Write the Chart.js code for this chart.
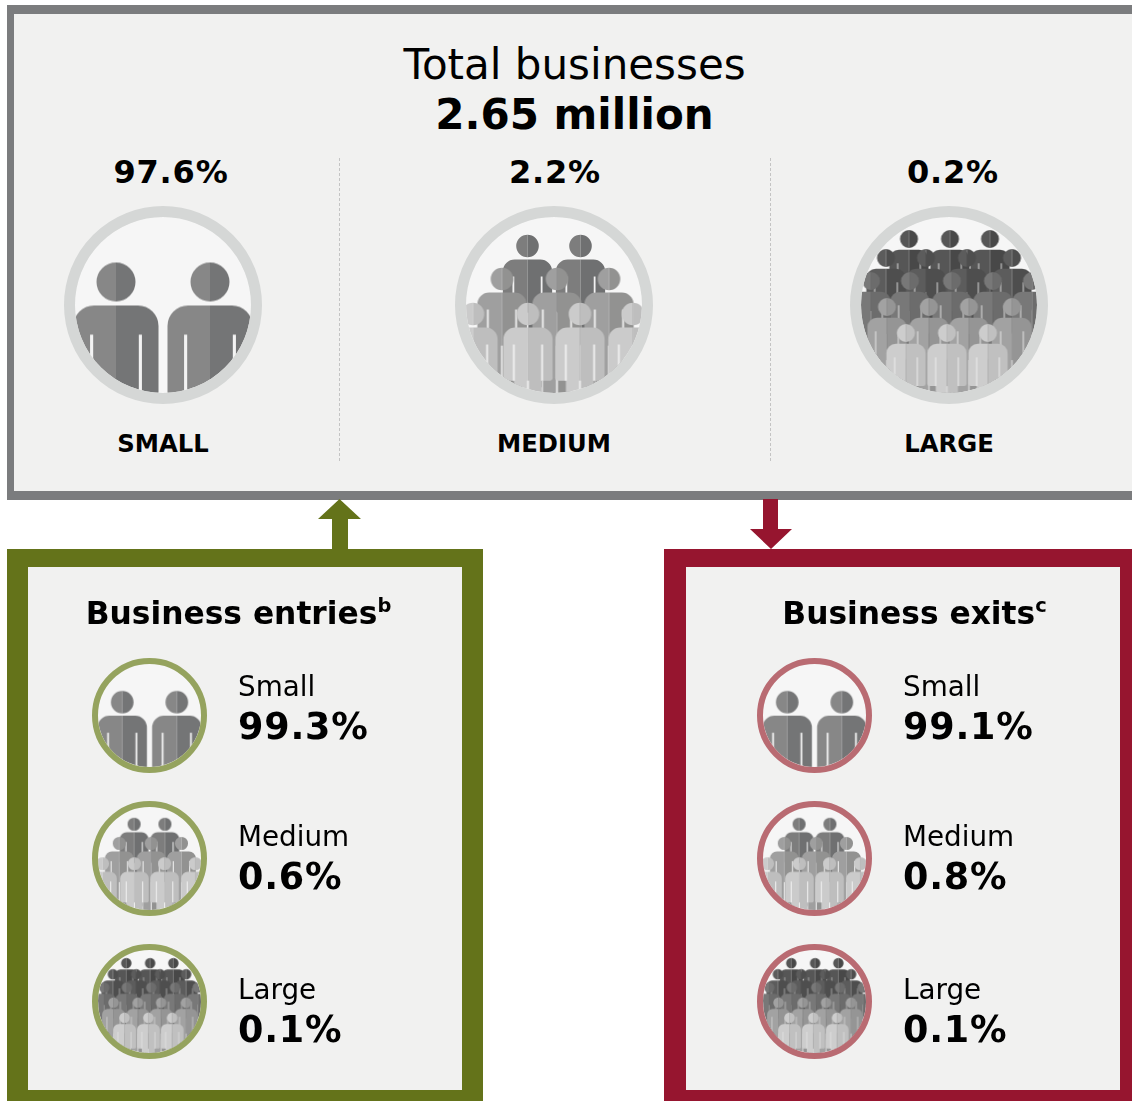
<!DOCTYPE html>
<html>
<head>
<meta charset="utf-8">
<script src="https://cdn.jsdelivr.net/npm/chart.js@4"></script>
<style>
html, body { margin: 0; padding: 0; background: #fff; }
#page { position: relative; width: 1132px; height: 1101px; overflow: hidden; font-family: "DejaVu Sans", Verdana, sans-serif; color: #000; filter: blur(0.5px); }
#page > * { position: absolute; box-sizing: border-box; }
.panel { background: #f1f1f0; }
#total-panel { left: 7px; top: 5px; width: 1140px; height: 495px; border: 7px solid #7b7c7e; border-width: 9px 8px 9px 7px; }
#entries-panel { left: 7px; top: 549px; width: 476px; height: 562px; border: 21px solid #64731a; border-top-width: 18px; }
#exits-panel { left: 664px; top: 549px; width: 482px; height: 563px; border: 22px solid #96152f; border-top-width: 18px; border-right-width: 26px; }
.divider { top: 158px; height: 303px; width: 0; border-left: 1px dashed #c4c4c4; }
.arrow { width: 44px; height: 50px; }
#arrow-in { left: 318px; top: 499px; background: #64731a; clip-path: polygon(21.5px 0, 43px 20px, 30px 20px, 30px 50px, 14px 50px, 14px 20px, 0 20px); }
#arrow-out { left: 749px; top: 499px; background: #96152f; clip-path: polygon(14px 0, 29px 0, 29px 30px, 43px 30px, 22px 50px, 1px 30px, 14px 30px); }
.t { white-space: nowrap; line-height: 1; transform: translateX(-50%); }
.l { white-space: nowrap; line-height: 1; }
.b { font-weight: bold; }
.wide { letter-spacing: 0.8px; }
sup { font-size: 0.62em; line-height: 0; vertical-align: 0.6em; }
canvas { position: absolute; left: 0; top: 0; }
</style>
</head>
<body>
<div id="page">
  <div id="total-panel" class="panel"></div>
  <div id="entries-panel" class="panel"></div>
  <div id="exits-panel" class="panel"></div>
  <div class="divider" style="left:339px"></div>
  <div class="divider" style="left:770px"></div>
  <div id="arrow-in" class="arrow"></div>
  <div id="arrow-out" class="arrow"></div>
  <div class="t" style="left:574.5px;top:44px;font-size:42px" id="total-title"></div>
  <div class="t b" style="left:574.5px;top:94px;font-size:42px" id="total-value"></div>
</div>
<script>
// values
const totalTitle = 'Total businesses';
const totalValue = '2.65 million';
const sizeNames = ['Small', 'Medium', 'Large'];
const totalShares = [97.6, 2.2, 0.2];
const entryShares = [99.3, 0.6, 0.1];
const exitShares = [99.1, 0.8, 0.1];

// people in each icon, back row first, measured from the centre of the circle
const smallRowsX = [[-47, 47]];
const smallRowsY = [23];
const mediumRowsX = [[-26.5, 26.5], [-52, 3, 55], [-81, -26, 26, 79]];
const mediumRowsY = [59, 26, -9];
const largeRowsX = [[-40, 1, 41], [-63, -23, 18, 63], [-78, -39, 3, 44, 83], [-62, -20, 20, 63], [-43, -2, 39]];
const largeRowsY = [66, 47, 24, -2, -28];

// light side / dark side of each row
const smallTones = [['#878787', '#747576']];
const mediumTones = [['#7d7d7d', '#6f7071'], ['#9f9f9f', '#929291'], ['#cbcbcb', '#bebebe']];
const largeTones = [['#565656', '#484848'], ['#5c5c5c', '#4e4e4e'], ['#787878', '#6c6c6c'], ['#a2a2a2', '#959595'], ['#cdcdcd', '#c0c0c0']];

const iconTypes = {
    small: { rowsX: smallRowsX, rowsY: smallRowsY, tones: smallTones, headR: 19.5, slit: '#f3f3f3' },
    medium: { rowsX: mediumRowsX, rowsY: mediumRowsY, tones: mediumTones, headR: 11.3, slit: '#f1f1f1' },
    large: { rowsX: largeRowsX, rowsY: largeRowsY, tones: largeTones, headR: 9, slit: 'rgba(241,241,241,0.6)' }
};

const page = document.getElementById('page');

function addText(text, cls, left, top, size) {
    const el = document.createElement('div');
    el.className = cls;
    el.style.left = left + 'px';
    el.style.top = top + 'px';
    el.style.fontSize = size + 'px';
    el.innerHTML = text;
    page.appendChild(el);
}

// one person as a point image, head in the middle of the image
function personImage(r, light, dark, slit) {
    const w = Math.ceil(r * 5);
    const h = Math.ceil(r * 26);
    const c = document.createElement('canvas');
    c.width = w;
    c.height = h;
    const ctx = c.getContext('2d');
    ctx.translate(w / 2, h / 2);
    ctx.scale(r, r);

    ctx.beginPath();
    ctx.arc(0, 0, 1, 0, Math.PI * 2);
    ctx.roundRect(-2.18, 1.2, 4.36, 4.7, [1.05, 1.05, 0.25, 0.25]);
    ctx.rect(-1.25, 5, 2.5, 7.5);
    ctx.save();
    ctx.clip();
    ctx.fillStyle = light;
    ctx.fillRect(-3, -2, 3, 15);
    ctx.fillStyle = dark;
    ctx.fillRect(0, -2, 3, 15);
    ctx.restore();

    ctx.fillStyle = slit;
    ctx.fillRect(-1.33, 2.7, 0.16, 3.2);
    ctx.fillRect(1.17, 2.7, 0.16, 3.2);
    ctx.fillRect(-0.08, 5.9, 0.16, 6.6);
    return c;
}

// ring and pale background behind the people, which are clipped to the ring
const iconFrame = {
    id: 'iconFrame',
    beforeDatasetsDraw(chart, args, opts) {
        const { ctx, scales } = chart;
        const cx = scales.x.getPixelForValue(0);
        const cy = scales.y.getPixelForValue(0);
        ctx.save();
        ctx.beginPath();
        ctx.arc(cx, cy, opts.inner, 0, Math.PI * 2);
        ctx.fillStyle = '#f6f6f6';
        ctx.fill();
        ctx.clip();
    },
    afterDatasetsDraw(chart, args, opts) {
        const { ctx, scales } = chart;
        ctx.restore();
        const cx = scales.x.getPixelForValue(0);
        const cy = scales.y.getPixelForValue(0);
        ctx.beginPath();
        ctx.arc(cx, cy, opts.inner + opts.ring / 2, 0, Math.PI * 2);
        ctx.strokeStyle = opts.color;
        ctx.lineWidth = opts.ring;
        ctx.stroke();
    }
};

function drawIcon(type, cx, cy, outerR, ringWidth, ringColor) {
    const size = outerR * 2;
    const canvas = document.createElement('canvas');
    canvas.width = size;
    canvas.height = size;
    canvas.style.width = size + 'px';
    canvas.style.height = size + 'px';
    const box = document.createElement('div');
    box.style.cssText = `left:${cx - outerR}px;top:${cy - outerR}px;width:${size}px;height:${size}px`;
    box.appendChild(canvas);
    page.appendChild(box);

    const icon = iconTypes[type];
    const scale = outerR / 99;
    const datasets = icon.rowsY.map((y, i) => ({
        data: icon.rowsX[i].map(x => ({ x: x, y: y })),
        pointStyle: personImage(icon.headR * scale, icon.tones[i][0], icon.tones[i][1], icon.slit),
        order: icon.rowsY.length - i,
        clip: false
    }));

    new Chart(canvas, {
        type: 'scatter',
        data: { datasets: datasets },
        options: {
            responsive: false,
            animation: false,
            events: [],
            layout: { padding: 0, autoPadding: false },
            scales: {
                x: { display: false, min: -99, max: 99 },
                y: { display: false, min: -99, max: 99 }
            },
            plugins: {
                legend: { display: false },
                tooltip: { enabled: false },
                iconFrame: { inner: outerR - ringWidth, ring: ringWidth, color: ringColor }
            }
        },
        plugins: [iconFrame]
    });
}

document.getElementById('total-title').textContent = totalTitle;
document.getElementById('total-value').textContent = totalValue;

// top row
const topCentres = [163, 554, 949];
const topValueX = [171, 555, 953];
const topTypes = ['small', 'medium', 'large'];
topTypes.forEach((type, i) => {
    drawIcon(type, topCentres[i], 305, 99, 11, '#d5d7d6');
    addText(totalShares[i] + '%', 't b wide', topValueX[i], 156, 32);
    addText(sizeNames[i].toUpperCase(), 't b', topCentres[i], 431.5, 24.3);
});

// lower panels
addText('Business entries<sup>b</sup>', 't b', 238.5, 598, 31.3);
addText('Business exits<sup>c</sup>', 't b', 914.5, 598, 31.3);
const iconRows = [715, 858, 1001];
const labelTops = [673, 823, 976];
const valueTops = [709, 859, 1012];
topTypes.forEach((type, i) => {
    drawIcon(type, 149.5, iconRows[i], 57.5, 6, '#95a35e');
    drawIcon(type, 814.5, iconRows[i], 57.5, 6, '#b96b72');
    addText(sizeNames[i], 'l', 238, labelTops[i], 27.8);
    addText(entryShares[i].toFixed(1) + '%', 'l b wide', 238, valueTops[i], 36.5);
    addText(sizeNames[i], 'l', 903, labelTops[i], 27.8);
    addText(exitShares[i].toFixed(1) + '%', 'l b wide', 903, valueTops[i], 36.5);
});
</script>
</body>
</html>
